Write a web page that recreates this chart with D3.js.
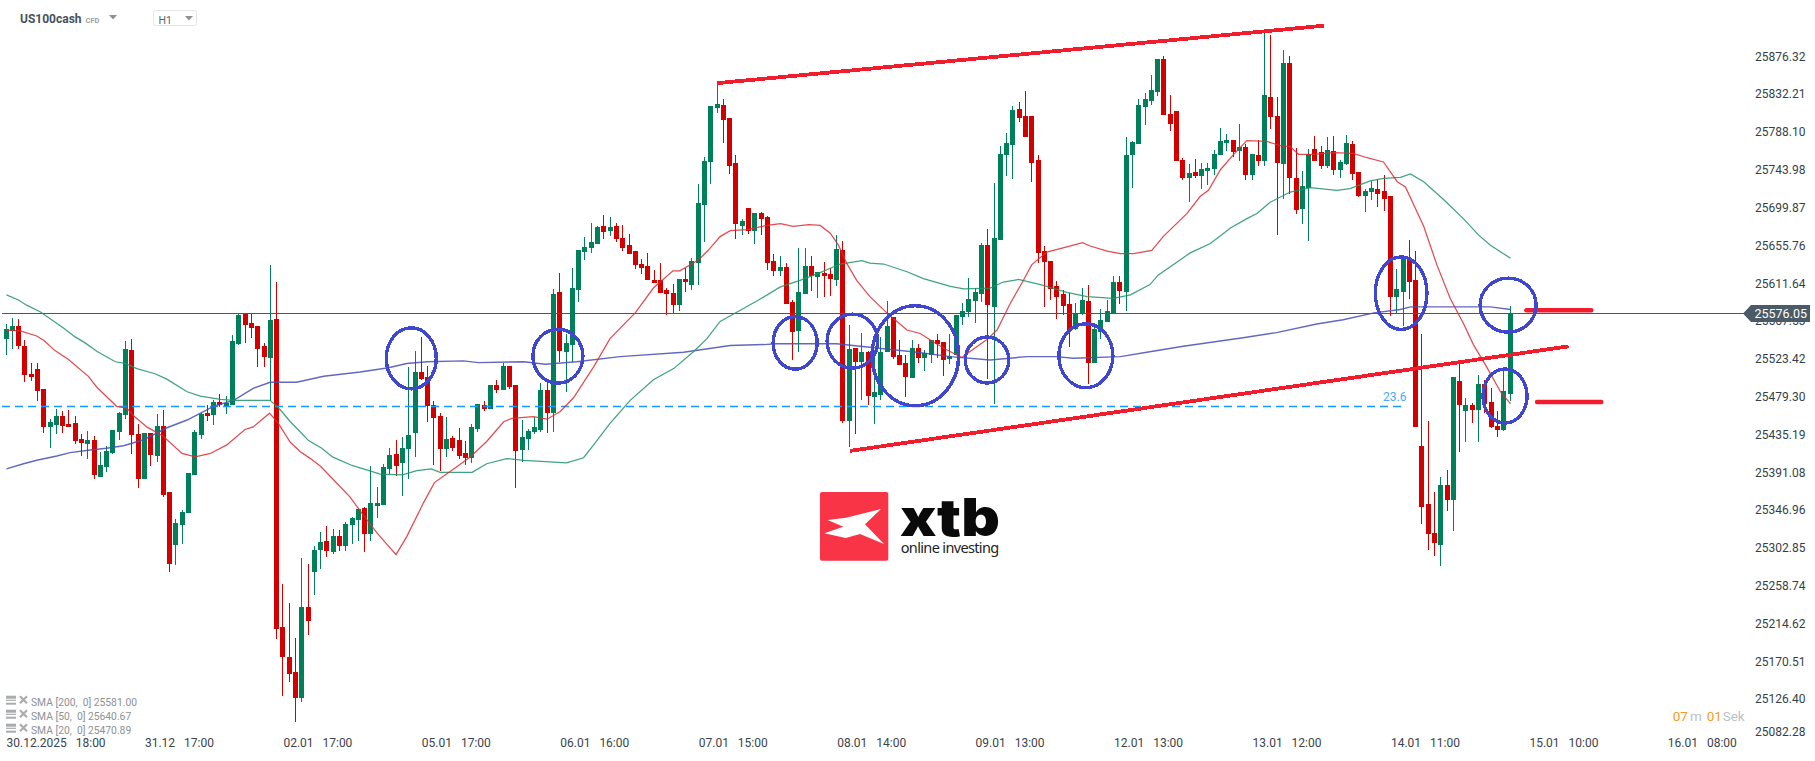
<!DOCTYPE html>
<html>
<head>
<meta charset="utf-8">
<title>US100cash H1</title>
<script src="https://cdn.jsdelivr.net/npm/d3@7"></script>
<style>
  html, body { margin: 0; padding: 0; background: #fff; overflow: hidden; }
  svg { display: block; font-family: Roboto, sans-serif; }
</style>
</head>
<body>
<svg id="chart" width="1815" height="761"></svg>
<script>
const opens = [
  25547,25556,25562,25538,25506,25512,25488,25444,25446,25457,
  25447,25449,25430,25424,25429,25386,25397,25414,25438,25458,
  25534,25436,25383,25437,25410,25445,25368,25306,25330,25344,
  25388,25435,25460,25458,25473,25468,25470,25541,25576,25565,
  25562,25538,25524,25570,25211,25176,25158,25128,25234,25275,
  25300,25311,25298,25317,25305,25330,25335,25349,25319,25352,
  25353,25395,25412,25402,25418,25437,25508,25502,25470,25457,
  25418,25431,25429,25414,25408,25441,25470,25465,25493,25487,
  25515,25493,25417,25430,25438,25440,25487,25460,25601,25531,
  25540,25604,25648,25653,25657,25678,25673,25678,25664,25656,
  25649,25634,25632,25615,25615,25604,25600,25586,25617,25610,
  25635,25703,25753,25816,25820,25804,25752,25678,25699,25673,
  25694,25689,25638,25626,25631,25590,25556,25599,25632,25619,
  25624,25622,25615,25650,25451,25536,25520,25531,25479,25481,
  25531,25572,25528,25519,25501,25536,25524,25528,25545,25543,
  25523,25528,25572,25578,25591,25599,25656,25584,25662,25761,
  25773,25815,25807,25807,25755,25649,25638,25608,25599,25587,
  25558,25576,25591,25519,25555,25566,25576,25613,25601,25761,
  25774,25817,25824,25835,25873,25809,25812,25755,25734,25741,
  25737,25743,25745,25761,25775,25779,25766,25771,25738,25761,
  25754,25829,25807,25751,25868,25734,25698,25723,25768,25765,
  25748,25766,25744,25751,25774,25741,25713,25718,25722,25719,
  25713,25595,25601,25640,25615,25422,25354,25320,25306,25376,
  25359,25498,25463,25470,25464,25494,25473,25445,25440,25482
];
const highs = [
  25564,25571,25570,25545,25519,25519,25488,25453,25465,25463,
  25464,25457,25436,25439,25433,25415,25422,25440,25461,25544,
  25547,25447,25437,25437,25459,25464,25368,25337,25347,25390,
  25440,25460,25470,25475,25482,25480,25551,25576,25577,25576,
  25562,25542,25633,25613,25261,25239,25198,25291,25284,25305,
  25321,25328,25325,25324,25333,25339,25349,25351,25398,25374,
  25401,25419,25429,25432,25514,25533,25549,25515,25474,25460,
  25456,25433,25443,25428,25447,25471,25474,25493,25499,25519,
  25515,25493,25452,25441,25456,25495,25495,25605,25624,25552,
  25629,25650,25666,25682,25678,25691,25689,25682,25680,25669,
  25649,25640,25647,25627,25635,25606,25611,25617,25629,25641,
  25727,25759,25818,25845,25826,25804,25761,25687,25699,25694,
  25695,25690,25646,25643,25635,25592,25653,25653,25643,25625,
  25636,25629,25668,25661,25563,25536,25554,25533,25531,25549,
  25591,25572,25545,25528,25545,25541,25534,25545,25552,25543,
  25552,25575,25589,25618,25606,25659,25675,25729,25772,25787,
  25818,25823,25836,25807,25761,25655,25638,25614,25604,25600,
  25589,25606,25610,25565,25582,25592,25620,25620,25782,25778,
  25827,25834,25855,25873,25877,25831,25812,25758,25751,25757,
  25752,25752,25767,25793,25786,25779,25797,25774,25762,25779,
  25905,25901,25829,25884,25877,25769,25743,25768,25783,25772,
  25782,25783,25755,25784,25778,25741,25722,25731,25733,25738,
  25713,25628,25640,25662,25649,25552,25451,25368,25386,25394,
  25502,25520,25478,25472,25505,25499,25489,25463,25510,25585
];
const lows = [
  25528,25535,25535,25496,25498,25474,25437,25419,25436,25437,
  25444,25424,25410,25407,25383,25386,25391,25412,25429,25453,
  25412,25373,25383,25398,25403,25362,25275,25283,25307,25344,
  25388,25430,25451,25446,25467,25459,25470,25540,25542,25548,
  25514,25514,25474,25196,25130,25146,25100,25123,25201,25248,
  25278,25292,25296,25299,25299,25307,25311,25298,25311,25338,
  25353,25389,25387,25363,25383,25409,25499,25450,25400,25392,
  25409,25416,25407,25400,25402,25438,25463,25465,25484,25487,
  25488,25373,25403,25417,25436,25438,25437,25438,25520,25485,
  25520,25590,25639,25647,25657,25663,25667,25660,25649,25646,
  25628,25622,25615,25612,25600,25575,25576,25579,25601,25604,
  25610,25660,25727,25810,25775,25739,25663,25668,25669,25657,
  25668,25627,25620,25620,25587,25522,25531,25599,25603,25594,
  25596,25597,25608,25449,25421,25436,25475,25470,25447,25475,
  25531,25523,25516,25479,25501,25519,25509,25519,25524,25503,
  25517,25528,25563,25572,25565,25590,25500,25471,25662,25737,
  25733,25800,25782,25730,25635,25584,25592,25570,25575,25537,
  25557,25575,25494,25519,25547,25566,25576,25587,25579,25723,
  25774,25796,25820,25830,25808,25789,25754,25732,25706,25734,
  25722,25726,25738,25761,25766,25759,25754,25732,25732,25748,
  25748,25791,25668,25710,25716,25692,25681,25661,25754,25745,
  25746,25738,25734,25750,25732,25712,25695,25709,25700,25696,
  25573,25576,25562,25593,25444,25331,25300,25293,25282,25346,
  25323,25415,25426,25449,25426,25460,25443,25432,25439,25474
];
const closes = [
  25558,25562,25538,25505,25502,25486,25444,25450,25457,25445,
  25444,25428,25425,25429,25388,25400,25416,25440,25460,25535,
  25435,25383,25437,25411,25445,25365,25284,25332,25345,25390,
  25438,25459,25457,25473,25470,25472,25544,25575,25563,25559,
  25535,25526,25569,25208,25176,25156,25128,25234,25218,25300,
  25310,25299,25317,25305,25331,25338,25348,25319,25355,25355,
  25397,25411,25398,25419,25435,25508,25500,25468,25454,25418,
  25430,25419,25410,25408,25444,25471,25465,25493,25487,25515,
  25491,25416,25432,25439,25444,25487,25460,25599,25533,25542,
  25606,25650,25654,25660,25677,25671,25677,25663,25653,25646,
  25633,25629,25615,25612,25600,25599,25586,25617,25613,25638,
  25705,25754,25818,25821,25802,25748,25681,25684,25673,25694,
  25687,25635,25626,25631,25587,25555,25601,25632,25620,25625,
  25620,25617,25652,25451,25535,25520,25531,25480,25485,25531,
  25562,25526,25516,25502,25536,25524,25530,25545,25541,25522,
  25527,25575,25579,25593,25601,25656,25586,25664,25762,25775,
  25814,25804,25782,25752,25647,25636,25605,25596,25585,25557,
  25577,25592,25519,25558,25569,25579,25613,25603,25761,25776,
  25820,25827,25837,25873,25808,25797,25754,25734,25740,25737,
  25745,25746,25762,25778,25779,25765,25771,25738,25762,25754,
  25831,25805,25752,25868,25734,25697,25725,25762,25754,25748,
  25767,25744,25753,25775,25739,25713,25719,25723,25716,25710,
  25595,25605,25640,25613,25444,25351,25319,25309,25376,25359,
  25502,25470,25470,25464,25494,25471,25444,25440,25486,25576.05
];

const sma20Index = [0,2.2,4.8,5.9,7.7,9.8,13,14.4,17.5,19.1,20.2,22.3,24.9,27.9,30,32.4,35,37.9,39.2,41.8,43.2,45.1,46.7,48.3,49.9,52,54.6,56.7,58.9,60.7,61.9,63.6,66.3,68,70.5,73.7,76.3,79,80.3,83.7,85.9,88,90.1,93.3,95.9,99.9,102.8,105.9,107,110,111.5,113.4,115,117.6,120.8,123,125,127.5,129.3,130.9,132.2,133.5,135.1,137.2,139.9,141.5,143.1,145.2,147.3,149.4,151.8,153.9,155.8,157.4,159.5,161.6,162.9,165.3,168.5,171,172.2,174.9,177,179.1,182,183.8,187.6,189.7,191,192.9,194.9,197.1,200.3,202.4,204,205.3,207.7,210.9,214,216.2,218.8,221,222.3,225.2,227.3,229.4,231.5,233.1,235.2,237.4,239];
const sma20Value = [25557,25556,25550,25545,25533,25523,25503,25490,25468,25466,25457,25444,25433,25413,25409,25413,25423,25441,25444,25460,25448,25426,25415,25407,25398,25382,25362,25341,25320,25305,25295,25316,25356,25379,25392,25409,25427,25450,25454,25456,25453,25462,25478,25514,25547,25577,25606,25626,25626,25639,25650,25666,25673,25674,25679,25681,25678,25680,25679,25670,25656,25635,25615,25596,25577,25567,25557,25553,25543,25534,25525,25536,25546,25557,25588,25615,25633,25648,25654,25659,25655,25649,25646,25646,25650,25666,25693,25713,25720,25744,25761,25778,25777,25772,25771,25762,25762,25764,25763,25758,25753,25730,25724,25678,25633,25594,25565,25540,25514,25485,25470.89];
const sma50Index = [0,1.9,3.2,5.4,9.1,10.9,12.5,14.4,17.3,18.9,20.7,23.6,25.4,28.7,30.8,34,36.1,41.9,43.5,45.1,46.7,48,50.1,51.8,54.9,59.4,62.9,65.2,67.5,68.9,74,76.3,79.5,82.2,89,91.7,93.3,95.9,99.1,102.8,106,109.2,111.3,113.4,116.6,119.5,122.9,126.1,129.3,132.5,135.9,137.2,139.4,143.1,145.7,150,152.1,156.3,158.4,160.8,164.3,168.5,171.7,175.9,178.6,181.7,183,188.1,191.3,194.5,197.1,198.7,200.8,204,207.2,211.4,213.5,216.7,218.8,221.5,223.1,225.2,228.4,231.5,233.9,235.8,239];
const sma50Value = [25598,25592,25586,25578,25559,25549,25542,25532,25520,25518,25512,25506,25500,25485,25480,25476,25475,25475,25464,25450,25438,25428,25419,25409,25399,25389,25388,25393,25395,25391,25391,25401,25407,25405,25402,25408,25423,25448,25475,25499,25512,25532,25547,25567,25580,25592,25607,25615,25624,25634,25638,25635,25634,25625,25617,25608,25605,25606,25613,25616,25610,25601,25596,25594,25598,25610,25621,25647,25658,25676,25687,25693,25706,25718,25723,25720,25722,25731,25734,25735,25739,25730,25709,25687,25668,25656,25640.67];
const sma200Index = [0,2.7,4.8,8,10.1,13.3,15.9,18.6,21.8,25.5,28.7,32.9,36.1,39.2,41.9,46.1,50.4,56.2,60.7,63.6,66.8,72.6,75,82.2,85.6,90.6,97.5,107.6,115,120.3,122.4,131.9,138.3,144.7,150,156.3,162.1,166.9,169.5,177,181.2,187,196.5,201.8,208.2,212.4,217.3,221.5,223.1,235.8,239];
const sma200Value = [25395,25401,25405,25410,25414,25417,25419,25422,25429,25443,25452,25468,25475,25489,25496,25496,25503,25508,25513,25518,25520,25521,25519,25520,25517,25520,25526,25531,25539,25540,25541,25541,25536,25531,25526,25522,25526,25526,25524,25526,25531,25538,25548,25554,25564,25569,25577,25581,25584,25584,25581];

const priceTicks = [25876.32,25832.21,25788.10,25743.98,25699.87,25655.76,25611.64,25567.53,25523.42,25479.30,25435.19,25391.08,25346.96,25302.85,25258.74,25214.62,25170.51,25126.40,25082.28];
const timeTickIndex = [0,22,44,66,88,110,132,154,176,198,220,242,264];
const timeTickLabels = ["30.12.2025  18:00","31.12  17:00","02.01  17:00","05.01  17:00","06.01  16:00","07.01  15:00","08.01  14:00","09.01  13:00","12.01  13:00","13.01  12:00","14.01  11:00","15.01  10:00","16.01  08:00"];

const lastPrice = 25576.05;
const fibPrice = 25468;
const fibLabel = "23.6";

// drawn-on annotations, in candle index and price
const trendFromIndex = [113, 134.1];
const trendFromPrice = [25845, 25416];
const trendToIndex = [209.4, 248.3];
const trendToPrice = [25912, 25538];
const levelFromIndex = [241.6, 243.3];
const levelToIndex = [251.9, 253.5];
const levelPrice = [25580, 25473];
const circleIndex = [64.4,87.7,125.4,134.5,144.5,155.9,171.6,221.7,238.7,238.2];
const circlePrice = [25524,25526.5,25542,25544,25527,25522,25527,25600,25586,25480];
const circleSpanIndex = [3.97,3.97,3.5,4.02,6.88,3.45,4.29,4.1,4.45,3.5];
const circleSpanPrice = [35.6,31.5,30.7,31.5,58.3,26.8,37.3,42.3,31.5,31.5];

const legendLabels = ["SMA [200,  0] 25581.00","SMA [50,  0] 25640.67","SMA [20,  0] 25470.89"];

const GREEN = "#00805a", RED = "#d30000", TREND = "#f21c2d", CIRCLE = "#3f47cf";

const svg = d3.select("#chart");

const x = d3.scaleLinear().domain([0, 239]).range([6, 1510.03]);
const y = d3.scaleLinear().domain([25876.32, 25258.74]).range([56.3, 585.7]);
const col = i => Math.floor(x(i));

const candles = opens.map((o, i) => ({ i, o, h: highs[i], l: lows[i], c: closes[i] }));

const candle = svg.append("g").attr("class", "candles")
  .selectAll("g")
  .data(candles)
  .join("g")
    .attr("fill", d => d.c >= d.o ? GREEN : RED);

candle.append("rect")
  .attr("x", d => col(d.i))
  .attr("width", 1)
  .attr("y", d => Math.round(y(d.h)))
  .attr("height", d => Math.max(1, Math.round(y(d.l)) - Math.round(y(d.h))));

candle.append("rect")
  .attr("x", d => col(d.i) - 2)
  .attr("width", 5)
  .attr("y", d => Math.round(y(Math.max(d.o, d.c))))
  .attr("height", d => Math.max(2, Math.round(y(Math.min(d.o, d.c))) - Math.round(y(Math.max(d.o, d.c)))));

// fib level and last price line run over the candles
svg.append("line")
  .attr("x1", 2).attr("x2", x(222))
  .attr("y1", Math.round(y(fibPrice)) + 0.5).attr("y2", Math.round(y(fibPrice)) + 0.5)
  .attr("stroke", "#1598ff").attr("stroke-width", 1.7)
  .attr("stroke-dasharray", "8 5");

svg.append("line")
  .attr("x1", 2).attr("x2", 1745)
  .attr("y1", Math.floor(y(lastPrice)) + 0.5).attr("y2", Math.floor(y(lastPrice)) + 0.5)
  .attr("stroke", "#4a5660").attr("stroke-width", 1);

const smaLine = d3.line().x(d => x(d[0]) + 0.5).y(d => y(d[1]));

[
  { idx: sma200Index, val: sma200Value, color: "#474db5", width: 1.45 },
  { idx: sma50Index, val: sma50Value, color: "#1f9368", width: 1.25 },
  { idx: sma20Index, val: sma20Value, color: "#dd2b33", width: 1.25 }
].forEach(s => {
  svg.append("path")
    .attr("d", smaLine(d3.zip(s.idx, s.val)))
    .attr("fill", "none")
    .attr("stroke", s.color)
    .attr("stroke-opacity", 0.85)
    .attr("stroke-width", s.width);
});

// trend channel
svg.append("g").selectAll("line")
  .data(trendFromIndex)
  .join("line")
    .attr("x1", (d, i) => x(d))
    .attr("y1", (d, i) => y(trendFromPrice[i]))
    .attr("x2", (d, i) => x(trendToIndex[i]))
    .attr("y2", (d, i) => y(trendToPrice[i]))
    .attr("stroke", TREND)
    .attr("stroke-width", 3.8)
    .attr("shape-rendering", "crispEdges");

svg.append("g").selectAll("line")
  .data(levelPrice)
  .join("line")
    .attr("x1", (d, i) => x(levelFromIndex[i]))
    .attr("x2", (d, i) => x(levelToIndex[i]))
    .attr("y1", d => y(d))
    .attr("y2", d => y(d))
    .attr("stroke", TREND)
    .attr("stroke-width", 4.5)
    .attr("stroke-linecap", "round");

const pxPerIndex = x(1) - x(0), pxPerPoint = y(0) - y(1);

svg.append("g").selectAll("ellipse")
  .data(circleIndex)
  .join("ellipse")
    .attr("cx", d => x(d))
    .attr("cy", (d, i) => y(circlePrice[i]))
    .attr("rx", (d, i) => circleSpanIndex[i] * pxPerIndex)
    .attr("ry", (d, i) => circleSpanPrice[i] * pxPerPoint)
    .attr("fill", "none")
    .attr("stroke", CIRCLE)
    .attr("stroke-width", 3.4)
    .attr("shape-rendering", "crispEdges");

svg.append("text")
  .attr("x", 1383).attr("y", 401)
  .attr("font-size", 12).attr("fill", "#4aa8ff")
  .text(fibLabel);

// price axis
const axisRight = d3.axisRight(y)
  .tickValues(priceTicks)
  .tickSize(0)
  .tickPadding(0)
  .tickFormat(d3.format(".2f"));

const priceAxis = svg.append("g")
  .attr("transform", "translate(1755, 0)")
  .call(axisRight);
priceAxis.select(".domain").remove();
priceAxis.selectAll("text")
  .attr("font-family", "Roboto, sans-serif")
  .attr("font-size", 12)
  .attr("fill", "#363f47");
priceAxis.selectAll(".tick")
  .filter(d => d === 25082.28)
  .attr("transform", `translate(0, 731.7)`);

// time axis
const axisBottom = d3.axisBottom(x)
  .tickValues(timeTickIndex)
  .tickSize(0)
  .tickPadding(0)
  .tickFormat((d, i) => timeTickLabels[i]);

const timeAxis = svg.append("g")
  .attr("transform", "translate(0, 738)")
  .call(axisBottom);
timeAxis.select(".domain").remove();
timeAxis.selectAll("text")
  .attr("font-family", "Roboto, sans-serif")
  .attr("font-size", 12)
  .attr("fill", "#3a444c")
  .attr("text-anchor", "start")
  .style("white-space", "pre")
  .style("word-spacing", "1.5px");

// last price tag
svg.append("path")
  .attr("d", "M1743,313.5 L1751,305 H1810 V322 H1751 Z")
  .attr("fill", "#4a5a66");
svg.append("text")
  .attr("x", 1754.5).attr("y", 318)
  .attr("font-size", 12.5).attr("fill", "#fff")
  .text(lastPrice.toFixed(2));

// instrument selector
svg.append("text")
  .attr("x", 20).attr("y", 23)
  .attr("font-size", 12).attr("font-weight", 700).attr("fill", "#47525c")
  .text("US100cash");
svg.append("text")
  .attr("x", 85.5).attr("y", 22.5)
  .attr("font-size", 7.5).attr("font-weight", 700).attr("fill", "#9ba1a6")
  .text("CFD");
svg.append("path").attr("d", "M109,15 H117 L113,19.5 Z").attr("fill", "#8c9196");
svg.append("rect")
  .attr("x", 153.5).attr("y", 10.5).attr("width", 43).attr("height", 15).attr("rx", 2)
  .attr("fill", "#fff").attr("stroke", "#e3e5e7");
svg.append("text")
  .attr("x", 158.5).attr("y", 23.5)
  .attr("font-size", 10.5).attr("fill", "#5a646c")
  .text("H1");
svg.append("path").attr("d", "M185,16 H193 L189,20.5 Z").attr("fill", "#8c9196");

// indicator legend
const legend = svg.append("g").selectAll("g")
  .data(legendLabels)
  .join("g")
    .attr("transform", (d, i) => `translate(0, ${ 701.7 + i * 14 })`);
legend.append("rect").attr("x", 6).attr("y", -6).attr("width", 10).attr("height", 3).attr("fill", "#a9abad");
legend.append("rect").attr("x", 6).attr("y", -2).attr("width", 10).attr("height", 1.2).attr("fill", "#a9abad");
legend.append("rect").attr("x", 6).attr("y", 1).attr("width", 10).attr("height", 2).attr("fill", "#a9abad");
legend.append("path")
  .attr("d", "M20,-5.5 L27,1.5 M27,-5.5 L20,1.5")
  .attr("stroke", "#aaacae").attr("stroke-width", 2.2);
legend.append("text")
  .attr("x", 31).attr("y", 3.8)
  .attr("font-size", 10.3).attr("fill", "#8d9195")
  .style("white-space", "pre")
  .text(d => d);

// countdown
const countdown = svg.append("text").attr("y", 720.5).attr("font-size", 13.5);
countdown.append("tspan").attr("x", 1672.7).attr("fill", "#f79a2a").text("07");
countdown.append("tspan").attr("x", 1690).attr("fill", "#bdc1c4").text("m");
countdown.append("tspan").attr("x", 1706.7).attr("fill", "#f79a2a").text("01");
countdown.append("tspan").attr("x", 1722.7).attr("fill", "#bdc1c4").text("Sek");

// logo
svg.append("rect")
  .attr("x", 820).attr("y", 492).attr("width", 68.3).attr("height", 68.7).attr("rx", 2)
  .attr("fill", "#f93446");
svg.append("polygon")
  .attr("points", "827.7,520 846,517.7 881,509 865,524.3 884,544 860,534 845.7,538 824.3,533.3 843.3,526.7")
  .attr("fill", "#fff");
svg.append("text")
  .attr("x", 900).attr("y", 536)
  .attr("font-family", "Inter, sans-serif")
  .attr("font-size", 52).attr("font-weight", 900).attr("fill", "#0a0a0a")
  .attr("textLength", 100).attr("lengthAdjust", "spacingAndGlyphs")
  .text("xtb");
svg.append("text")
  .attr("x", 900.7).attr("y", 553.3)
  .attr("font-family", "'Noto Sans', sans-serif")
  .attr("font-size", 14.5).attr("fill", "#222")
  .attr("textLength", 98.5)
  .text("online investing");
</script>
</body>
</html>
